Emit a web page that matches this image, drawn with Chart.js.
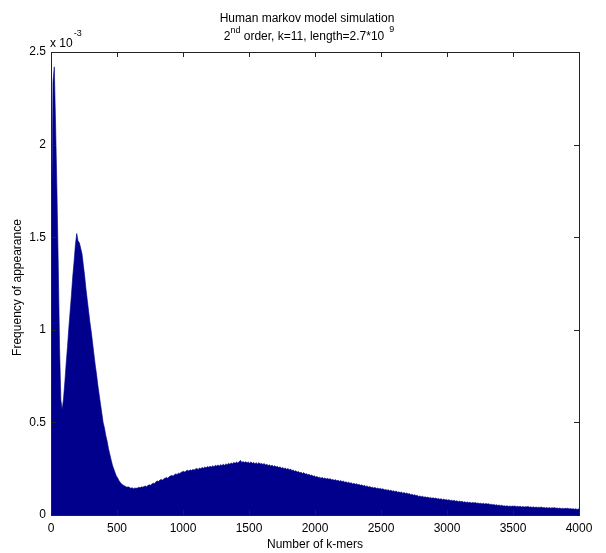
<!DOCTYPE html>
<html>
<head>
<meta charset="utf-8">
<script src="https://cdn.jsdelivr.net/npm/chart.js@4/dist/chart.umd.min.js"></script>
<style>
  html, body { margin: 0; padding: 0; background: #fff; }
  #wrap { width: 606px; height: 553px; }
</style>
</head>
<body>
<div id="wrap"><canvas id="histChart" width="606" height="553"></canvas></div>
<script>
// histogram of k-mer counts, bin width 10, values in units of 1e-3
const binWidth = 10;
const freqE3 = [
  // 0 - 500
  1.25, 2.34, 2.42, 2.10, 1.75, 1.35, 0.90, 0.62, 0.57, 0.63,
  0.72, 0.82, 0.91, 1.01, 1.10, 1.19, 1.29, 1.37, 1.46, 1.52,
  1.48, 1.47, 1.44, 1.41, 1.35, 1.29, 1.22, 1.16, 1.10, 1.04,
  0.99, 0.93, 0.87, 0.81, 0.76, 0.70, 0.65, 0.60, 0.55, 0.50,
  0.47, 0.43, 0.40, 0.36, 0.33, 0.30, 0.27, 0.25, 0.23, 0.21,
  // 500 - 1000
  0.200, 0.186, 0.176, 0.168, 0.162, 0.158, 0.154, 0.150, 0.152, 0.148,
  0.145, 0.147, 0.142, 0.146, 0.144, 0.146, 0.150, 0.147, 0.152, 0.150,
  0.154, 0.157, 0.153, 0.160, 0.163, 0.161, 0.168, 0.172, 0.170, 0.179,
  0.184, 0.181, 0.189, 0.192, 0.188, 0.196, 0.199, 0.203, 0.198, 0.207,
  0.210, 0.214, 0.209, 0.218, 0.222, 0.219, 0.226, 0.224, 0.230, 0.233,
  // 1000 - 1500
  0.236, 0.231, 0.239, 0.241, 0.237, 0.244, 0.240, 0.246, 0.243, 0.249,
  0.251, 0.246, 0.254, 0.250, 0.257, 0.253, 0.259, 0.255, 0.262, 0.258,
  0.263, 0.259, 0.266, 0.261, 0.268, 0.264, 0.270, 0.265, 0.272, 0.267,
  0.274, 0.269, 0.276, 0.272, 0.279, 0.274, 0.281, 0.277, 0.284, 0.279,
  0.286, 0.281, 0.287, 0.295, 0.284, 0.289, 0.283, 0.288, 0.282, 0.286,
  // 1500 - 2000
  0.280, 0.287, 0.279, 0.284, 0.277, 0.282, 0.276, 0.283, 0.275, 0.279,
  0.273, 0.278, 0.270, 0.274, 0.267, 0.271, 0.264, 0.269, 0.262, 0.266,
  0.259, 0.263, 0.256, 0.260, 0.253, 0.257, 0.250, 0.254, 0.247, 0.251,
  0.244, 0.248, 0.240, 0.243, 0.236, 0.239, 0.232, 0.235, 0.228, 0.231,
  0.224, 0.229, 0.221, 0.223, 0.217, 0.220, 0.213, 0.216, 0.209, 0.212,
  // 2000 - 2500
  0.205, 0.208, 0.202, 0.204, 0.199, 0.203, 0.197, 0.200, 0.194, 0.198,
  0.193, 0.196, 0.190, 0.192, 0.187, 0.191, 0.185, 0.188, 0.182, 0.186,
  0.180, 0.183, 0.177, 0.179, 0.174, 0.177, 0.171, 0.174, 0.168, 0.171,
  0.166, 0.169, 0.163, 0.165, 0.160, 0.163, 0.157, 0.160, 0.154, 0.157,
  0.151, 0.154, 0.148, 0.150, 0.146, 0.149, 0.143, 0.146, 0.141, 0.144,
  // 2500 - 3000
  0.139, 0.142, 0.136, 0.138, 0.134, 0.136, 0.131, 0.134, 0.128, 0.131,
  0.126, 0.129, 0.123, 0.125, 0.121, 0.124, 0.118, 0.121, 0.116, 0.119,
  0.113, 0.116, 0.110, 0.112, 0.107, 0.110, 0.104, 0.107, 0.100, 0.103,
  0.099, 0.101, 0.096, 0.098, 0.094, 0.097, 0.092, 0.095, 0.090, 0.093,
  0.089, 0.092, 0.087, 0.089, 0.085, 0.088, 0.083, 0.086, 0.081, 0.084,
  // 3000 - 3500
  0.080, 0.083, 0.078, 0.080, 0.076, 0.079, 0.074, 0.077, 0.072, 0.075,
  0.071, 0.074, 0.069, 0.071, 0.068, 0.070, 0.066, 0.069, 0.065, 0.068,
  0.065, 0.068, 0.063, 0.065, 0.062, 0.064, 0.060, 0.063, 0.059, 0.062,
  0.059, 0.061, 0.057, 0.058, 0.055, 0.057, 0.053, 0.056, 0.051, 0.054,
  0.050, 0.053, 0.048, 0.050, 0.047, 0.050, 0.046, 0.049, 0.046, 0.048,
  // 3500 - 4000
  0.047, 0.049, 0.045, 0.047, 0.044, 0.047, 0.043, 0.046, 0.043, 0.045,
  0.044, 0.046, 0.042, 0.044, 0.041, 0.044, 0.040, 0.043, 0.040, 0.042,
  0.041, 0.043, 0.039, 0.041, 0.038, 0.041, 0.037, 0.040, 0.037, 0.039,
  0.038, 0.040, 0.036, 0.038, 0.035, 0.038, 0.034, 0.037, 0.034, 0.036,
  0.035, 0.037, 0.033, 0.035, 0.032, 0.034, 0.031, 0.034, 0.030, 0.033
];
const xTicks = [0, 500, 1000, 1500, 2000, 2500, 3000, 3500, 4000];
const yTicks = [0, 0.5, 1, 1.5, 2, 2.5];

const FONT = '"Liberation Sans", Arial, Helvetica, sans-serif';
const barColor = 'rgb(0,0,140)';

// outline through the bin centres, closed at both ends of the range
const points = freqE3.map((v, i) => ({x: i * binWidth + binWidth / 2, y: v}));
points.unshift({x: 0, y: freqE3[0]});
points.push({x: freqE3.length * binWidth, y: freqE3[freqE3.length - 1]});

// matlab style frame, inward ticks and the text around the axes
const decor = {
    id: 'decor',
    afterDraw(chart) {
        const {ctx, chartArea: a, scales: {x, y}} = chart;
        ctx.save();
        ctx.strokeStyle = '#222';
        ctx.lineWidth = 1;
        ctx.strokeRect(Math.round(a.left) + 0.5, Math.round(a.top) + 0.5,
            Math.round(a.right - a.left), Math.round(a.bottom - a.top));
        ctx.beginPath();
        xTicks.forEach(t => {
            const px = Math.round(x.getPixelForValue(t)) + 0.5;
            ctx.moveTo(px, a.top); ctx.lineTo(px, a.top + 5);
            ctx.moveTo(px, a.bottom); ctx.lineTo(px, a.bottom - 5);
        });
        yTicks.forEach(t => {
            const py = Math.round(y.getPixelForValue(t)) + 0.5;
            ctx.moveTo(a.left, py); ctx.lineTo(a.left + 5, py);
            ctx.moveTo(a.right, py); ctx.lineTo(a.right - 5, py);
        });
        ctx.stroke();

        ctx.fillStyle = '#000';
        ctx.textBaseline = 'alphabetic';
        // title
        ctx.font = `12px ${FONT}`;
        ctx.textAlign = 'center';
        ctx.fillText('Human markov model simulation', 307, 22);

        ctx.textAlign = 'left';
        const big = `12px ${FONT}`, small = `9px ${FONT}`;
        const parts = [
            ['2', big, 0], ['nd', small, -7],
            [' order, k=11, length=2.7*10', big, 0], ['  9', small, -8]
        ];
        let total = 0;
        parts.forEach(([t, f]) => { ctx.font = f; total += ctx.measureText(t).width; });
        let cx = 309 - total / 2;
        parts.forEach(([t, f, dy]) => {
            ctx.font = f;
            ctx.fillText(t, cx, 40 + dy);
            cx += ctx.measureText(t).width;
        });

        // exponent of the y axis
        ctx.font = big;
        ctx.fillText('x 10', 50, 47);
        const w = ctx.measureText('x 10').width;
        ctx.font = small;
        ctx.fillText('-3', 50 + w + 1, 36);

        // axis titles
        ctx.font = big;
        ctx.textAlign = 'center';
        ctx.fillText('Number of k-mers', (a.left + a.right) / 2, 548);
        ctx.translate(18, (a.top + a.bottom) / 2 + 4);
        ctx.rotate(-Math.PI / 2);
        ctx.textBaseline = 'middle';
        ctx.fillText('Frequency of appearance', 0, 0);
        ctx.restore();
    }
};

new Chart(document.getElementById('histChart'), {
    type: 'line',
    data: {
        datasets: [{
            data: points,
            fill: 'origin',
            borderColor: barColor,
            backgroundColor: barColor,
            borderWidth: 0.6,
            pointRadius: 0,
            tension: 0
        }]
    },
    options: {
        responsive: false,
        animation: false,
        events: [],
        layout: {padding: {left: 0, right: 27, top: 52, bottom: 0}},
        plugins: {legend: {display: false}, tooltip: {enabled: false}},
        scales: {
            x: {
                type: 'linear',
                min: 0,
                max: 4000,
                afterFit: s => { s.height = 38; },
                afterBuildTicks: s => { s.ticks = xTicks.map(v => ({value: v})); },
                grid: {display: false, drawTicks: false},
                border: {display: false},
                ticks: {
                    color: '#000',
                    padding: 6,
                    maxRotation: 0,
                    autoSkip: false,
                    font: {family: FONT, size: 12},
                    callback: v => String(v)
                }
            },
            y: {
                type: 'linear',
                min: 0,
                max: 2.5,
                afterFit: s => { s.width = 51; },
                afterBuildTicks: s => { s.ticks = yTicks.map(v => ({value: v})); },
                grid: {display: false, drawTicks: false},
                border: {display: false},
                ticks: {
                    color: '#000',
                    padding: 5,
                    autoSkip: false,
                    font: {family: FONT, size: 12},
                    callback: v => String(v)
                }
            }
        }
    },
    plugins: [decor]
});
</script>
</body>
</html>
